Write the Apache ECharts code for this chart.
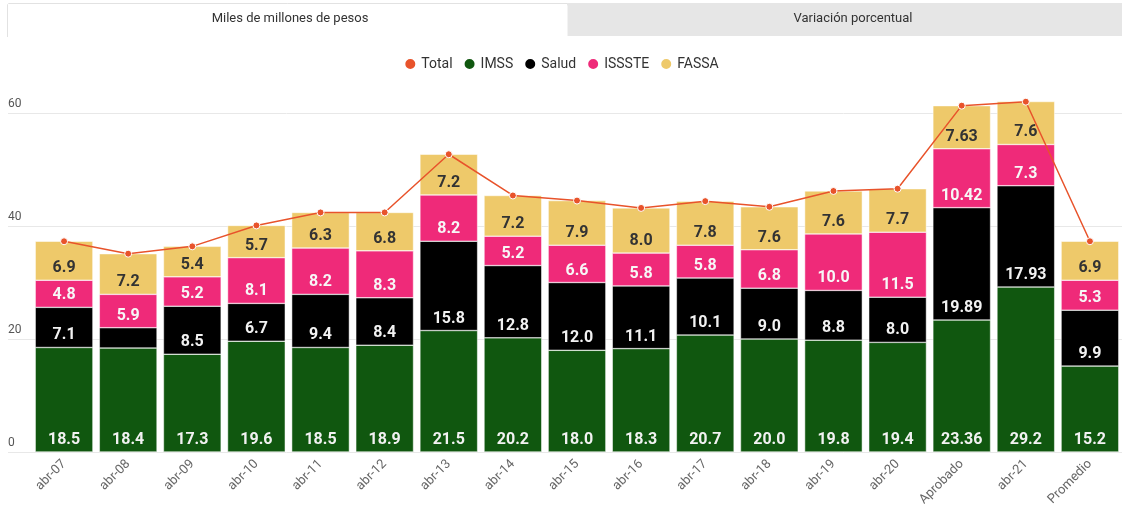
<!DOCTYPE html>
<html>
<head>
<meta charset="utf-8">
<script src="https://cdn.jsdelivr.net/npm/echarts@6/dist/echarts.min.js"></script>
<style>
  html, body { margin: 0; padding: 0; background: #fff; }
  #chart { width: 1122px; height: 509px; }
</style>
</head>
<body>
<div id="chart"></div>
<script>
const categories = ['abr-07', 'abr-08', 'abr-09', 'abr-10', 'abr-11', 'abr-12', 'abr-13', 'abr-14', 'abr-15',
  'abr-16', 'abr-17', 'abr-18', 'abr-19', 'abr-20', 'Aprobado', 'abr-21', 'Promedio']
const imss = [18.5, 18.4, 17.3, 19.6, 18.5, 18.9, 21.5, 20.2, 18.0, 18.3, 20.7, 20.0, 19.8, 19.4, 23.36, 29.2, 15.2]
const salud = [7.1, 3.6, 8.5, 6.7, 9.4, 8.4, 15.8, 12.8, 12.0, 11.1, 10.1, 9.0, 8.8, 8.0, 19.89, 17.93, 9.9]
const issste = [4.8, 5.9, 5.2, 8.1, 8.2, 8.3, 8.2, 5.2, 6.6, 5.8, 5.8, 6.8, 10.0, 11.5, 10.42, 7.3, 5.3]
const fassa = [6.9, 7.2, 5.4, 5.7, 6.3, 6.8, 7.2, 7.2, 7.9, 8.0, 7.8, 7.6, 7.6, 7.7, 7.63, 7.6, 6.9]
const total = [37.3, 35.1, 36.4, 40.1, 42.4, 42.4, 52.7, 45.4, 44.5, 43.2, 44.4, 43.4, 46.2, 46.6, 61.3, 62.0, 37.3]
const yTicks = [0, 20, 40, 60]

// labels shown as printed in the source (2 decimals for Aprobado etc.)
const fmt = v => {
  const s = String(v)
  return s.indexOf('.') < 0 ? v.toFixed(1) : s
}
// the source hides labels on very thin segments
const hiddenLabels = { salud: [1] }

const FONT = 'Roboto, "Noto Sans", sans-serif'

const chart = echarts.init(document.getElementById('chart'), null, { renderer: 'canvas' })

function barSeries(name, values, color, labelColor, key) {
  return {
    name,
    type: 'bar',
    stack: 'total',
    xAxisIndex: 0,
    yAxisIndex: 0,
    barCategoryGap: '10%',
    itemStyle: { color, borderColor: '#fff', borderWidth: 0.5 },
    label: {
      show: true,
      position: 'insideBottom',
      distance: 4,
      color: labelColor,
      fontFamily: FONT,
      fontWeight: 'bold',
      fontSize: 16,
      formatter: p => fmt(p.value)
    },
    data: values.map((v, i) => {
      if (hiddenLabels[key] && hiddenLabels[key].includes(i)) {
        return { value: v, label: { show: false } }
      }
      return v
    }),
    animation: false
  }
}

chart.setOption({
  textStyle: { fontFamily: FONT },
  graphic: [
    {
      type: 'rect',
      shape: { x: 567, y: 3, width: 560, height: 33 },
      style: { fill: '#e6e6e6' },
      silent: true
    },
    {
      type: 'rect',
      shape: { x: 7.5, y: 3.5, width: 560, height: 33, r: [3, 3, 0, 0] },
      style: { fill: '#fff' },
      silent: true
    },
    {
      type: 'polyline',
      shape: { points: [[7.5, 37], [7.5, 4.5], [8.5, 3.5], [567, 3.5]] },
      style: { stroke: '#e2e2e2', lineWidth: 1, fill: null },
      silent: true
    },
    {
      type: 'text',
      x: 290, y: 19,
      style: {
        text: 'Miles de millones de pesos',
        fill: '#333', font: '13px ' + FONT,
        textAlign: 'center', textVerticalAlign: 'middle'
      },
      silent: true
    },
    {
      type: 'text',
      x: 853, y: 19,
      style: {
        text: 'Variación porcentual',
        fill: '#333', font: '13px ' + FONT,
        textAlign: 'center', textVerticalAlign: 'middle'
      },
      silent: true
    }
  ],
  legend: {
    top: 52,
    left: 'center',
    icon: 'circle',
    itemWidth: 12,
    itemHeight: 12,
    itemGap: 10,
    textStyle: { color: '#333', fontSize: 14, fontFamily: FONT },
    data: ['Total', 'IMSS', 'Salud', 'ISSSTE', 'FASSA']
  },
  grid: [
    // bars
    { left: 32, right: -2, top: 84.75, bottom: 57 },
    // gridlines and y labels only
    { left: 8, right: 0, top: 113, bottom: 57 }
  ],
  xAxis: [
    {
      type: 'category',
      gridIndex: 0,
      data: categories,
      axisLine: { show: false },
      axisTick: { show: false },
      axisLabel: {
        rotate: 45,
        color: '#666',
        fontSize: 13,
        margin: 10,
        interval: 0
      }
    },
    {
      type: 'value',
      gridIndex: 1,
      show: false
    }
  ],
  yAxis: [
    {
      type: 'value',
      gridIndex: 0,
      min: 0,
      max: 65,
      show: false,
      splitLine: { show: false }
    },
    {
      type: 'value',
      gridIndex: 1,
      min: yTicks[0],
      max: yTicks[yTicks.length - 1],
      interval: 20,
      axisLine: { show: false },
      axisTick: { show: false },
      splitLine: { lineStyle: { color: '#e8e8e8', width: 1 } },
      axisLabel: {
        inside: true,
        margin: 0,
        color: '#555',
        fontSize: 12,
        verticalAlign: 'bottom',
        padding: [0, 0, 3, 0]
      }
    }
  ],
  series: [
    {
      name: 'Total',
      type: 'line',
      xAxisIndex: 0,
      yAxisIndex: 0,
      z: 5,
      data: total,
      symbol: 'circle',
      symbolSize: 7,
      color: '#E8532B',
      lineStyle: { color: '#E8532B', width: 1.5 },
      itemStyle: { color: '#E8532B', borderColor: '#fff', borderWidth: 1 },
      animation: false
    },
    barSeries('IMSS', imss, '#10570F', '#f2f2f2', 'imss'),
    barSeries('Salud', salud, '#000000', '#f2f2f2', 'salud'),
    barSeries('ISSSTE', issste, '#EF2A79', '#f7f7f7', 'issste'),
    barSeries('FASSA', fassa, '#EEC96A', '#333', 'fassa')
  ]
})
</script>
</body>
</html>
